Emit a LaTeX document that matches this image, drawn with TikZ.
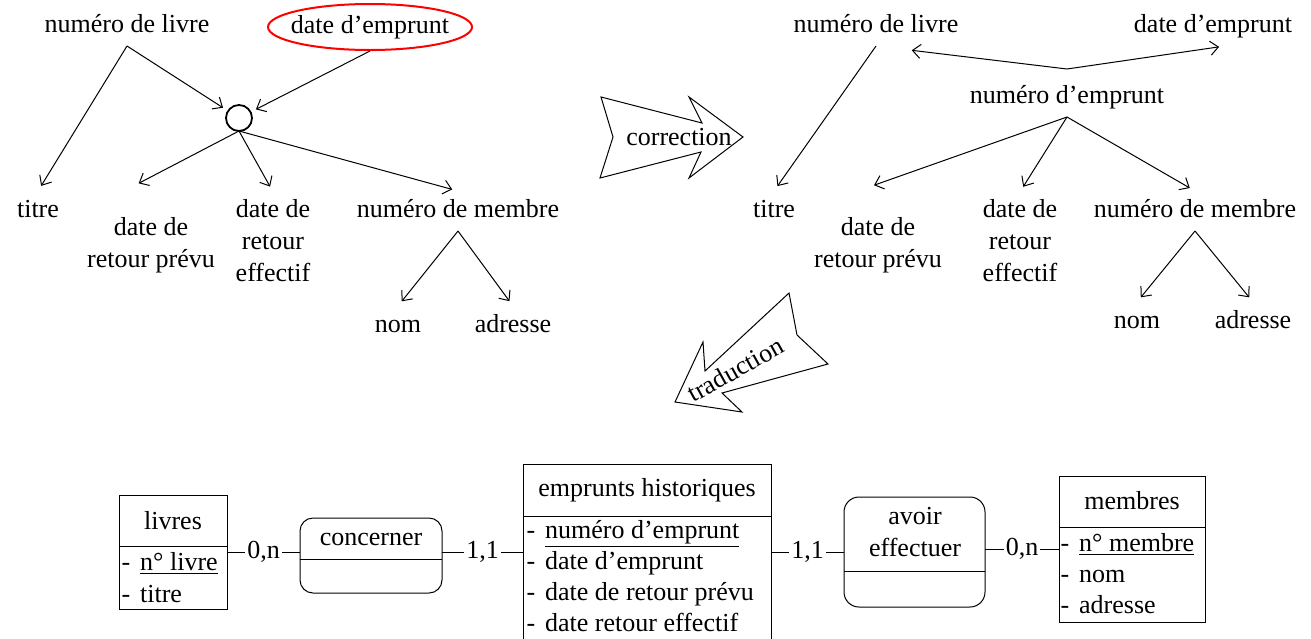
\documentclass[tikz,border=0pt]{standalone}
\usepackage{fontspec}
\setmainfont{Liberation Serif}
\usetikzlibrary{shapes.geometric,arrows.meta}

\begin{document}
\begin{tikzpicture}[x=0.5pt, y=-0.5pt, line width=0.5pt,
    font=\fontsize{13}{16}\selectfont,
    >={Straight Barb[length=4pt,width=7pt]},
    etiq/.style={text height=9pt, text depth=3pt, inner sep=2pt, outer sep=2pt},
    bloc/.style={align=center, inner sep=2pt, outer sep=2pt},
    fleche/.style={->, shorten >=3pt},
    entite/.style={draw, rectangle, inner sep=0pt, outer sep=0pt},
    relation/.style={draw, rectangle, rounded corners=6.5pt, inner sep=0pt, outer sep=0pt},
    attribut/.style={text height=9pt, text depth=3pt, inner sep=0pt, anchor=west},
    card/.style={text height=9pt, text depth=3pt, fill=white, inner sep=1pt}]
    \useasboundingbox (0,0) rectangle (1311,638);

    % 左上の依存関係
    \node[etiq] (livre1) at (127,26) {numéro de livre};
    \node[draw=red, ellipse, line width=1pt, minimum width=102pt, minimum height=23pt, inner sep=0pt] (date1) at (370,27) {};
    \node[etiq] (date1 texte) at (370,27) {date d’emprunt};
    \node[draw, circle, line width=0.9pt, minimum size=13pt, inner sep=0pt, outer sep=0pt] (rond) at (239,118) {};
    \node[etiq] (titre1) at (38,211) {titre};
    \node[bloc] (prevu1) at (151,245) {date de\\retour prévu};
    \node[bloc] (effectif1) at (273,241) {date de\\retour\\effectif};
    \node[etiq] (membre1) at (458,211) {numéro de membre};
    \node[etiq] (nom1) at (398,326) {nom};
    \node[etiq] (adresse1) at (513,326) {adresse};

    \draw[fleche] (livre1.south) -- (titre1.north);
    \draw[fleche] (livre1.south) -- (rond);
    \draw[fleche] (date1.south) -- (rond);
    \draw[fleche, shorten >=28pt] (rond.south) -- (prevu1.150);
    \draw[fleche] (rond.south) -- (effectif1.north);
    \draw[fleche] (rond.south) -- (membre1.north);
    \draw[fleche] (membre1.south) -- (nom1.north);
    \draw[fleche] (membre1.south) -- (adresse1.north);

    % 矢印 (correction, traduction)
    \draw (601,97) -- (702,123) -- (689,97) -- (743,137) -- (689,178) -- (701,152) -- (600,178) -- (613,137) -- cycle;
    \node[etiq] (correction) at (679,139) {correction};
    \draw (789,293) -- (797,335) -- (828,364) -- (722,393) -- (742,412) -- (675,402) -- (703,342) -- (705,371) -- cycle;
    \node[etiq, rotate=29] (traduction) at (737,372) {traduction};

    % 右上の依存関係
    \node[etiq] (livre2) at (876,26) {numéro de livre};
    \node[etiq] (date2) at (1213,26) {date d’emprunt};
    \node[etiq] (emprunt2) at (1067,97) {numéro d’emprunt};
    \node[etiq] (titre2) at (774,211) {titre};
    \node[bloc] (prevu2) at (878,245) {date de\\retour prévu};
    \node[bloc] (effectif2) at (1020,241) {date de\\retour\\effectif};
    \node[etiq] (membre2) at (1195,211) {numéro de membre};
    \node[etiq] (nom2) at (1137,322) {nom};
    \node[etiq] (adresse2) at (1253,322) {adresse};

    \draw[fleche, shorten >=18pt] ([yshift=4pt]emprunt2.north) -- (livre2.south);
    \draw[fleche] ([yshift=4pt]emprunt2.north) -- ([xshift=6pt]date2.south);
    \draw[fleche] (livre2.south) -- (titre2.north);
    \draw[fleche, shorten >=36pt] (emprunt2.south) -- (prevu2.north west);
    \draw[fleche] (emprunt2.south) -- (effectif2.north);
    \draw[fleche] (emprunt2.south) -- (membre2.north);
    \draw[fleche] (membre2.south) -- (nom2.north);
    \draw[fleche] (membre2.south) -- (adresse2.north);

    % 下の MCD
    \node[entite, minimum width=54pt, minimum height=57pt] (livres) at (173,552) {};
    \draw ([yshift=-25.5pt]livres.north west) -- ([yshift=-25.5pt]livres.north east);
    \node[etiq] (livres titre) at (173,523) {livres};
    \node[attribut] (livres a1) at (121,564) {-\hspace{5pt}\underline{n° livre}};
    \node[attribut] (livres a2) at (121,596) {-\hspace{5pt}titre};

    \node[relation, minimum width=71pt, minimum height=37.5pt] (concerner) at (371,555.5) {};
    \draw ([yshift=-20.5pt]concerner.north west) -- ([yshift=-20.5pt]concerner.north east);
    \node[etiq] (concerner texte) at (371,539) {concerner};

    \node[entite, minimum width=124pt, minimum height=88.5pt] (emprunts) at (647,552.5) {};
    \draw ([yshift=-26pt]emprunts.north west) -- ([yshift=-26pt]emprunts.north east);
    \node[etiq] (emprunts titre) at (647,490) {emprunts historiques};
    \node[attribut] (emprunts a1) at (526,532) {-\hspace{5pt}\underline{numéro d’emprunt}};
    \node[attribut] (emprunts a2) at (526,563) {-\hspace{5pt}date d’emprunt};
    \node[attribut] (emprunts a3) at (526,594) {-\hspace{5pt}date de retour prévu};
    \node[attribut] (emprunts a4) at (526,625) {-\hspace{5pt}date retour effectif};

    \node[relation, rounded corners=7.5pt, minimum width=70.5pt, minimum height=55pt] (avoir) at (914.5,552) {};
    \draw ([yshift=-37pt]avoir.north west) -- ([yshift=-37pt]avoir.north east);
    \node[bloc] (avoir texte) at (915,532) {avoir\\effectuer};

    \node[entite, minimum width=73pt, minimum height=73pt] (membres) at (1132,549) {};
    \draw ([yshift=-25.5pt]membres.north west) -- ([yshift=-25.5pt]membres.north east);
    \node[etiq] (membres titre) at (1132,503) {membres};
    \node[attribut] (membres a1) at (1060,545) {-\hspace{5pt}\underline{n° membre}};
    \node[attribut] (membres a2) at (1060,576) {-\hspace{5pt}nom};
    \node[attribut] (membres a3) at (1060,607) {-\hspace{5pt}adresse};

    % 関連
    \draw (livres.east) -- node[card] (c1) {0,n} (livres.east -| concerner.west);
    \draw (concerner.east |- emprunts.west) -- node[card] (c2) {1,1} (emprunts.west);
    \draw (emprunts.east) -- node[card] (c3) {1,1} (emprunts.east -| avoir.west);
    \draw (avoir.east |- membres.west) -- node[card] (c4) {0,n} (membres.west);
\end{tikzpicture}
\end{document}
